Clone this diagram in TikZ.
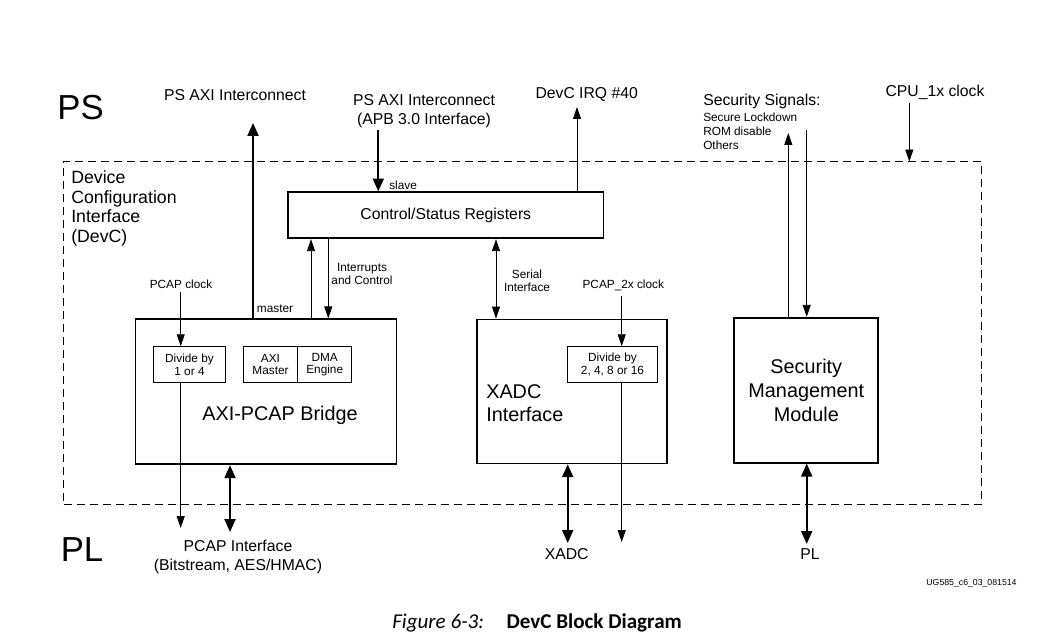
\documentclass[tikz,border=0pt]{standalone}
\usepackage{fontspec}
\setmainfont{Liberation Sans}
\newfontfamily\capfont{Carlito}
\usetikzlibrary{arrows.meta}
\begin{document}
\begin{tikzpicture}[x=0.025cm,y=-0.025cm,
    blk/.style={draw,line width=1.2pt,inner sep=0pt,align=center,font=\fontsize{14.1}{17}\selectfont},
    subblk/.style={draw,line width=0.7pt,inner sep=0pt,minimum height=0.89cm,align=center,font=\fontsize{8.4}{9.5}\selectfont},
    lbl/.style={inner sep=0pt,align=center,font=\fontsize{11.2}{13}\selectfont},
    sml/.style={inner sep=0pt,align=center,font=\fontsize{8.4}{9.5}\selectfont},
    bigtxt/.style={inner sep=0pt,align=left,font=\fontsize{14.1}{16.3}\selectfont},
    thinarr/.style={line width=0.6pt,-{Triangle[width=5.7pt,length=8.5pt]}},
    thinboth/.style={line width=0.6pt,{Triangle[width=5.7pt,length=8.5pt]}-{Triangle[width=5.7pt,length=8.5pt]}},
    thickarr/.style={line width=1.4pt,-{Triangle[width=7.8pt,length=9.2pt]}},
    thickboth/.style={line width=1.4pt,{Triangle[width=7.8pt,length=9.2pt]}-{Triangle[width=7.8pt,length=9.2pt]}}]
    \useasboundingbox (0,0) rectangle (1058,643);
    \node[draw,line width=0.6pt,dash pattern=on 0.2cm off 0.125cm,minimum width=22.94cm,minimum height=8.56cm,anchor=north west] (devc) at (63.3,161.5) {};
    \node[font=\fontsize{24.7}{28}\selectfont,inner sep=0pt] (ps) at (80.5,107.5) {PS};
    \node[font=\fontsize{24.7}{28}\selectfont,inner sep=0pt] (pl) at (82,550) {PL};
    \node[inner sep=0pt,align=left,anchor=west,font=\fontsize{12.6}{13.8}\selectfont] (devctxt) at (71,208.5) {Device\\Configuration\\Interface\\(DevC)};
    % blocks
    \node[blk,minimum width=7.875cm,minimum height=1.15cm,font=\fontsize{11.2}{13}\selectfont] (ctrl) at (445.8,215.3) {Control/Status Registers};
    \node[blk,minimum width=6.525cm,minimum height=3.625cm] (axi) at (266,391.8) {};
    \node[blk,minimum width=4.735cm,minimum height=3.6cm] (xadc) at (572,391.4) {};
    \node[blk,minimum width=3.6cm,minimum height=3.625cm] (smm) at (806.3,390.2) {Security\\Management\\Module};
    \node[subblk,minimum width=1.81cm] (div1) at (189.5,364.5) {Divide by\\1 or 4};
    \node[subblk,minimum width=1.36cm,font=\fontsize{8.4}{8.3}\selectfont] (axim) at (270.5,364.5) {AXI\\Master};
    \node[subblk,minimum width=1.35cm,font=\fontsize{8.4}{8.3}\selectfont] (dma) at (324.7,364.5) {DMA\\Engine};
    \node[subblk,minimum width=2.26cm] (div2) at (612.5,364.5) {Divide by\\2, 4, 8 or 16};
    \node[bigtxt] (axitxt) at (280,415) {AXI-PCAP Bridge};
    \node[bigtxt,anchor=west] (xadctxt) at (486,403.5) {XADC\\Interface};
    % labels
    \node[lbl] (psaxi) at (235,95) {PS AXI Interconnect};
    \node[lbl] (apbtxt) at (424,111) {PS AXI Interconnect\\(APB 3.0 Interface)};
    \node[lbl] (irqtxt) at (586.7,94) {DevC IRQ \#40};
    \node[lbl,anchor=west] (secsig) at (703,101.7) {Security Signals:};
    \node[sml,anchor=west,align=left,font=\fontsize{8.4}{10}\selectfont] (seclist) at (703,131) {Secure Lockdown\\ROM disable\\Others};
    \node[lbl] (cputxt) at (935,92.7) {CPU\_1x clock};
    \node[sml,anchor=west] (slave) at (389,185) {slave};
    \node[sml,anchor=west] (master) at (256.7,308.3) {master};
    \node[sml] (intctl) at (362,274) {Interrupts\\and Control};
    \node[sml] (serial) at (527,281) {Serial\\Interface};
    \node[sml] (pclk) at (181,284) {PCAP clock};
    \node[sml] (p2x) at (623.3,285) {PCAP\_2x clock};
    \node[lbl] (pcaptxt) at (238,557) {PCAP Interface\\(Bitstream, AES/HMAC)};
    \node[lbl] (xadcpl) at (566.7,554) {XADC};
    \node[lbl] (pltxt) at (810,554) {PL};
    \node[inner sep=0pt,font=\fontsize{6.2}{7}\selectfont] (ug) at (971.5,583) {UG585\_c6\_03\_081514};
    \node[inner sep=0pt,anchor=west,font=\capfont\fontsize{15}{17}\selectfont] (cap) at (392,623) {\textit{Figure 6-3:}\hspace{16pt}\textbf{DevC Block Diagram}};
    % free ends
    \coordinate (axiic) at (253,123);
    \coordinate (apb) at (378.3,130);
    \coordinate (irq) at (577,107);
    \coordinate (secup) at (788.3,133);
    \coordinate (secdn) at (806.7,130);
    \coordinate (cpu) at (909.3,103);
    \coordinate (intup) at (311,0);
    \coordinate (intdn) at (328.3,0);
    \coordinate (ser) at (496,0);
    \coordinate (pclkx) at (180.7,292);
    \coordinate (pcapout) at (180.7,528);
    \coordinate (pcapio) at (230,532);
    \coordinate (p2xx) at (621.7,296);
    \coordinate (xclk) at (621.7,542);
    \coordinate (xadcio) at (567.7,543);
    \coordinate (plio) at (806.7,544);
    % connectors
    \draw[thickarr] (axiic |- axi.north) -- (axiic);
    \draw[thickarr] (apb) -- (apb |- ctrl.north);
    \draw[thinarr] (irq |- ctrl.north) -- (irq);
    \draw[thinarr] (secup |- smm.north) -- (secup);
    \draw[thinarr] (secdn) -- (secdn |- smm.north);
    \draw[thinarr] (cpu) -- (cpu |- devc.north);
    \draw[thinarr] (intup |- axi.north) -- (intup |- ctrl.south);
    \draw[thinarr] (intdn |- ctrl.south) -- (intdn |- axi.north);
    \draw[thinboth] (ser |- ctrl.south) -- (ser |- xadc.north);
    \draw[thinarr] (pclkx) -- (pclkx |- div1.north);
    \draw[thinarr] (pclkx |- div1.south) -- (pcapout);
    \draw[thickboth] (pcapio |- axi.south) -- (pcapio);
    \draw[thinarr] (p2xx) -- (p2xx |- div2.north);
    \draw[thinarr] (p2xx |- div2.south) -- (xclk);
    \draw[thickboth] (xadcio |- xadc.south) -- (xadcio);
    \draw[thickboth] (plio |- smm.south) -- (plio);
\end{tikzpicture}
\end{document}
